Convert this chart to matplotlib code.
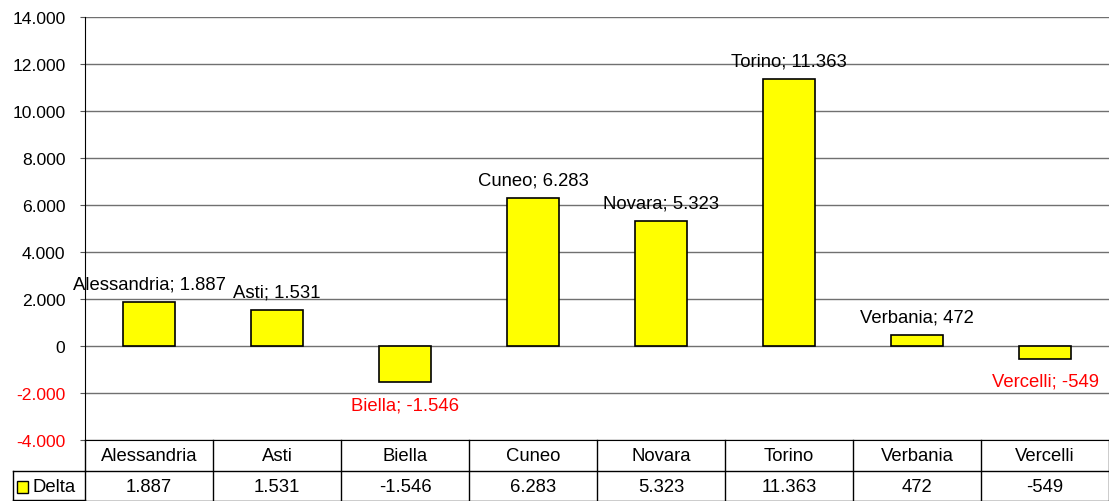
import matplotlib
matplotlib.use('Agg')
import matplotlib.pyplot as plt
from matplotlib.patches import Rectangle

# data
provinces = ["Alessandria", "Asti", "Biella", "Cuneo", "Novara", "Torino", "Verbania", "Vercelli"]
delta = [1887, 1531, -1546, 6283, 5323, 11363, 472, -549]
series_name = "Delta"
y_ticks = [-4000, -2000, 0, 2000, 4000, 6000, 8000, 10000, 12000, 14000]


def it_fmt(v):
    """Italian thousands separator."""
    s = f"{abs(v):,}".replace(",", ".")
    return ("-" if v < 0 else "") + s


plt.rcParams['font.family'] = ['Liberation Sans', 'DejaVu Sans']
FS = 13.3
W, H = 1109, 502

fig = plt.figure(figsize=(W / 100, H / 100), dpi=100)
ax = fig.add_axes([85 / W, 1 - 441 / H, 1024 / W, 423 / H])

x = list(range(len(provinces)))
bars = ax.bar(x, delta, width=0.41, color='#FFFF00', edgecolor='black', linewidth=1.2, zorder=3)

ax.set_xlim(-0.5, len(provinces) - 0.5)
ax.set_ylim(y_ticks[0], y_ticks[-1])
ax.set_yticks(y_ticks)
ax.set_yticklabels([it_fmt(v) for v in y_ticks], fontsize=12.6)
for lab, v in zip(ax.get_yticklabels(), y_ticks):
    lab.set_color('red' if v < 0 else 'black')
ax.set_xticks([])
ax.tick_params(axis='y', direction='out', length=3.6, color='#555555', pad=10.5)
ax.yaxis.grid(True, color='#707070', linewidth=1)
ax.set_axisbelow(True)
for s in ['top', 'right']:
    ax.spines[s].set_visible(False)
ax.spines['left'].set_color('black')
ax.spines['bottom'].set_color('black')

# data labels (Excel style "Name; value")
for xi, name, v in zip(x, provinces, delta):
    dy = 13 if v >= 0 else -16
    ax.annotate(f"{name}; {it_fmt(v)}", (xi, v), xytext=(0, dy), textcoords='offset points',
                ha='center', va='center', fontsize=FS,
                color='black' if v >= 0 else 'red', zorder=5)

# data table below the plot
tr = ax.get_xaxis_transform()
row_h = 31 / 423
line_kw = dict(color='black', linewidth=1, clip_on=False)
n = len(provinces)
# horizontal lines
ax.plot([-0.5, n - 0.5], [-row_h, -row_h], transform=tr, **line_kw)
ax.plot([-0.5, n - 0.5], [-2 * row_h + 0.002, -2 * row_h + 0.002], transform=tr, **line_kw)
# vertical lines
for i in range(n + 1):
    ax.plot([i - 0.5, i - 0.5], [0, -2 * row_h], transform=tr, **line_kw)
for xi, name, v in zip(x, provinces, delta):
    ax.text(xi, -row_h / 2, name, transform=tr, ha='center', va='center', fontsize=FS)
    ax.text(xi, -1.5 * row_h, it_fmt(v), transform=tr, ha='center', va='center', fontsize=FS)

# row header cell with legend key
ft = fig.transFigure
fig.add_artist(plt.Line2D([13 / W, 85 / W], [1 - 472 / H, 1 - 472 / H], transform=ft, color='black', lw=1))
fig.add_artist(plt.Line2D([13 / W, 85 / W], [1 - 501 / H, 1 - 501 / H], transform=ft, color='black', lw=1))
fig.add_artist(plt.Line2D([13 / W, 13 / W], [1 - 472 / H, 1 - 501 / H], transform=ft, color='black', lw=1))
fig.add_artist(Rectangle((17 / W, 1 - 494 / H), 11 / W, 12 / H, transform=ft,
                         facecolor='#FFFF00', edgecolor='black', lw=1))
fig.text(32 / W, 1 - 488 / H, series_name, ha='left', va='center', fontsize=FS)

fig.savefig('out.png', dpi=100)
